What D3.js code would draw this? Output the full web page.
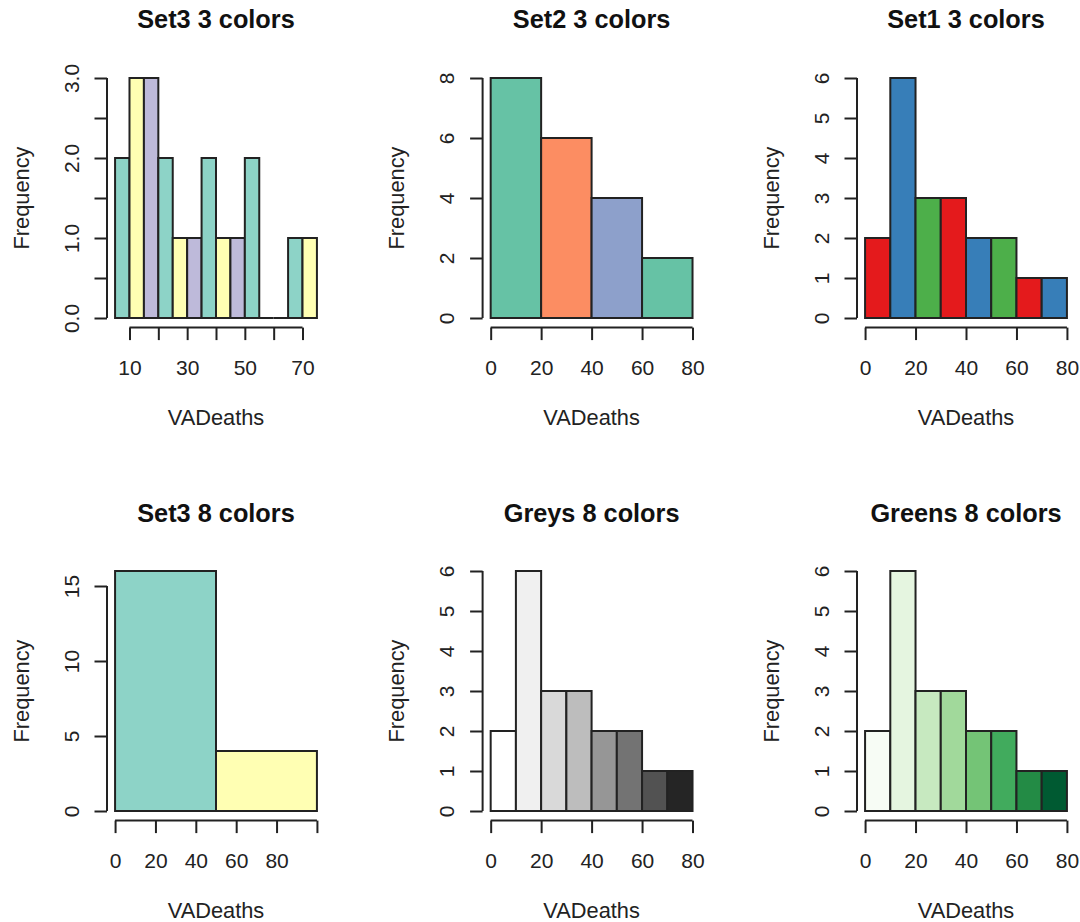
<!DOCTYPE html>
<html>
<head>
<meta charset="utf-8">
<script src="https://cdn.jsdelivr.net/npm/d3@7"></script>
<style>
  html, body { margin: 0; padding: 0; background: #fff; }
  svg { display: block; font-family: "Liberation Sans", Arial, sans-serif; }
</style>
</head>
<body>
<svg id="chart" width="1080" height="922"></svg>
<script>
// ---------------- data ----------------
const titles = ["Set3 3 colors", "Set2 3 colors", "Set1 3 colors", "Set3 8 colors", "Greys 8 colors", "Greens 8 colors"];
const xLabel = "VADeaths";
const yLabel = "Frequency";

const breaks5 = [5, 10, 15, 20, 25, 30, 35, 40, 45, 50, 55, 60, 65, 70, 75];
const counts5 = [2, 3, 3, 2, 1, 1, 2, 1, 1, 2, 0, 0, 1, 1];
const breaks20 = [0, 20, 40, 60, 80];
const counts20 = [8, 6, 4, 2];
const breaks10 = [0, 10, 20, 30, 40, 50, 60, 70, 80];
const counts10 = [2, 6, 3, 3, 2, 2, 1, 1];
const breaks50 = [0, 50, 100];
const counts50 = [16, 4];

const set3_3 = ["#8DD3C7", "#FFFFB3", "#BEBADA"];
const set2_3 = ["#66C2A5", "#FC8D62", "#8DA0CB"];
const set1_3 = ["#E41A1C", "#377EB8", "#4DAF4A"];
const set3_8 = ["#8DD3C7", "#FFFFB3", "#BEBADA", "#FB8072", "#80B1D3", "#FDB462", "#B3DE69", "#FCCDE5"];
const greys_8 = ["#FFFFFF", "#F0F0F0", "#D9D9D9", "#BDBDBD", "#969696", "#737373", "#525252", "#252525"];
const greens_8 = ["#F7FCF5", "#E5F5E0", "#C7E9C0", "#A1D99B", "#74C476", "#41AB5D", "#238B45", "#005A32"];

// axis ticks and labelled ticks
const xTicks5 = [10, 20, 30, 40, 50, 60, 70];
const xLabels5 = [10, 30, 50, 70];
const xTicks80 = [0, 20, 40, 60, 80];
const xTicks100 = [0, 20, 40, 60, 80, 100];
const xLabels100 = [0, 20, 40, 60, 80];
const yTicks3 = [0, 0.5, 1, 1.5, 2, 2.5, 3];
const yLabels3 = [0, 1, 2, 3];
const yTicks8 = [0, 2, 4, 6, 8];
const yTicks6 = [0, 1, 2, 3, 4, 5, 6];
const yTicks16 = [0, 5, 10, 15];

// ---------------- layout ----------------
const colL = [107, 482.6, 857];
const rowT = [68.4, 561.4];
const plotW = 218, plotH = 259.2;
const titleBase = [28.3, 521.5];
const xLabBase = [425, 918];
const ink = "#222";
const fontSize = 21;
const labSize = 21.8;

const panels = [
  { title: titles[0], breaks: breaks5, counts: counts5, pal: set3_3, xt: xTicks5, xl: xLabels5, yt: yTicks3, yl: yLabels3, fmt: d => d.toFixed(1), r: 0, c: 0 },
  { title: titles[1], breaks: breaks20, counts: counts20, pal: set2_3, xt: xTicks80, xl: xTicks80, yt: yTicks8, yl: yTicks8, fmt: d => String(d), r: 0, c: 1 },
  { title: titles[2], breaks: breaks10, counts: counts10, pal: set1_3, xt: xTicks80, xl: xTicks80, yt: yTicks6, yl: yTicks6, fmt: d => String(d), r: 0, c: 2 },
  { title: titles[3], breaks: breaks50, counts: counts50, pal: set3_8, xt: xTicks100, xl: xLabels100, yt: yTicks16, yl: yTicks16, fmt: d => String(d), r: 1, c: 0 },
  { title: titles[4], breaks: breaks10, counts: counts10, pal: greys_8, xt: xTicks80, xl: xTicks80, yt: yTicks6, yl: yTicks6, fmt: d => String(d), r: 1, c: 1 },
  { title: titles[5], breaks: breaks10, counts: counts10, pal: greens_8, xt: xTicks80, xl: xTicks80, yt: yTicks6, yl: yTicks6, fmt: d => String(d), r: 1, c: 2 }
];

const svg = d3.select("#chart");

panels.forEach(p => {
  const L = colL[p.c], T = rowT[p.r];
  const x0 = p.breaks[0], x1 = p.breaks[p.breaks.length - 1];
  const xr = x1 - x0;
  const ymax = d3.max(p.counts);
  const x = d3.scaleLinear().domain([x0 - 0.04 * xr, x1 + 0.04 * xr]).range([L, L + plotW]);
  const y = d3.scaleLinear().domain([-0.04 * ymax, 1.04 * ymax]).range([T + plotH, T]);

  const g = svg.append("g");

  // bars
  const bins = p.counts.map((v, i) => ({ a: p.breaks[i], b: p.breaks[i + 1], v, i }));
  g.selectAll("path.bar").data(bins).enter().append("path")
    .attr("class", "bar")
    .attr("d", d => `M${x(d.a)},${y(0)}H${x(d.b)}V${y(d.v)}H${x(d.a)}Z`)
    .attr("fill", d => p.pal[d.i % p.pal.length])
    .attr("stroke", ink)
    .attr("stroke-width", 2);

  // x axis
  const xa = g.append("g")
    .attr("transform", `translate(0,${T + plotH})`)
    .call(d3.axisBottom(x).tickValues(p.xt).tickSize(12.5).tickSizeOuter(0)
      .tickFormat(d => p.xl.includes(d) ? String(d) : ""));
  xa.select(".domain").attr("d", `M${x(p.xt[0])},0H${x(p.xt[p.xt.length - 1])}`)
    .attr("stroke", ink).attr("stroke-width", 2);
  xa.selectAll(".tick line").attr("stroke", ink).attr("stroke-width", 2);
  xa.selectAll(".tick text").attr("y", 47).attr("dy", null)
    .attr("fill", ink).style("font-size", fontSize + "px")
    .style("font-family", '"Liberation Sans", Arial, sans-serif');

  // y axis
  const ya = g.append("g")
    .attr("transform", `translate(${L},0)`)
    .call(d3.axisLeft(y).tickValues(p.yt).tickSize(12.5).tickSizeOuter(0)
      .tickFormat(d => p.yl.includes(d) ? p.fmt(d) : ""));
  ya.select(".domain").attr("d", `M0,${y(p.yt[0])}V${y(p.yt[p.yt.length - 1])}`)
    .attr("stroke", ink).attr("stroke-width", 2);
  ya.selectAll(".tick line").attr("stroke", ink).attr("stroke-width", 2);
  ya.selectAll(".tick text").attr("x", null).attr("dy", null)
    .attr("transform", "translate(-28.5,0) rotate(-90)")
    .attr("text-anchor", "middle")
    .attr("fill", ink).style("font-size", fontSize + "px")
    .style("font-family", '"Liberation Sans", Arial, sans-serif');

  // title
  g.append("text")
    .attr("x", L + plotW / 2).attr("y", titleBase[p.r])
    .attr("text-anchor", "middle")
    .style("font-size", "25.3px").style("font-weight", "bold")
    .attr("fill", "#111")
    .text(p.title);

  // x label
  g.append("text")
    .attr("x", L + plotW / 2).attr("y", xLabBase[p.r])
    .attr("text-anchor", "middle")
    .style("font-size", labSize + "px")
    .attr("fill", ink)
    .text(xLabel);

  // y label
  g.append("text")
    .attr("transform", `translate(${L - 78.5},${T + plotH / 2}) rotate(-90)`)
    .attr("text-anchor", "middle")
    .style("font-size", labSize + "px")
    .attr("fill", ink)
    .text(yLabel);
});
</script>
</body>
</html>
